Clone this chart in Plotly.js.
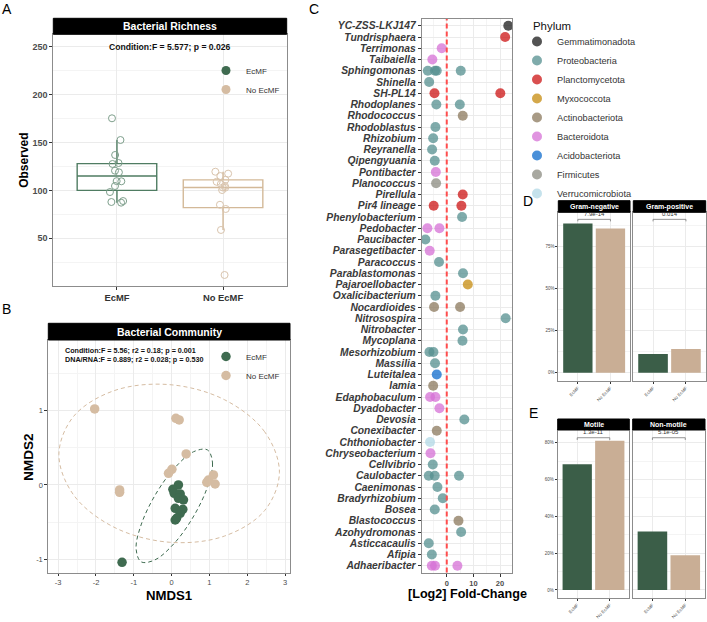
<!DOCTYPE html>
<html><head><meta charset="utf-8">
<script src="https://cdn.plot.ly/plotly-3.0.1.min.js"></script>
<style>html,body{margin:0;padding:0;background:#fff}#chart{width:707px;height:622px}</style>
</head><body><div id="chart"></div>
<script>
// ---------- Panel A: Bacterial richness ----------
const groups = ['EcMF', 'No EcMF'];
const richEcMF = [175.3, 152.6, 137, 128.6, 127.6, 120.6, 118.9, 109.5, 109.7, 104.6, 98.3, 88.9, 87.2, 87.9];
const richNoEcMF = [119.5, 117.5, 115, 111, 109, 106.7, 104.6, 102.8, 100.4, 85, 80.6, 58.7, 11.7, 103];
const richQ1 = [100, 82];
const richMedian = [115, 103];
const richQ3 = [128, 111];
const richLower = [87.2, 58.7];
const richUpper = [152.6, 119.5];
const richTicks = [50, 100, 150, 200, 250];
const richMinor = [25, 75, 125, 175, 225];

// ---------- Panel B: NMDS ----------
const nmdsEcMFx = [0.18, 0.034, 0.069, 0.227, 0.18, 0.314, 0.095, 0.297, 0.227, 0.095, 0.13, -1.31];
const nmdsEcMFy = [0.0, -0.058, -0.112, -0.121, -0.18, -0.2, -0.314, -0.327, -0.381, -0.471, -0.449, -1.04];
const nmdsNoEcMFx = [-2.034, 0.113, 0.2, 0.385, 0.008, -0.082, -1.375, -1.375, 0.974, 1.106, 1.15, 0.93];
const nmdsNoEcMFy = [1.023, 0.897, 0.875, 0.417, 0.211, 0.157, -0.067, -0.099, 0.067, 0.135, 0.013, 0.036];
const ellEcMFx = [0.947, 1.082, 0.942, 0.570, 0.066, -0.438, -0.805, -0.939, -0.799, -0.427, 0.077, 0.580, 0.947];
const ellEcMFy = [0.472, 0.296, -0.034, -0.431, -0.787, -1.007, -1.034, -0.856, -0.526, -0.129, 0.227, 0.447, 0.472];
const ellNoEcMFx = [2.85, 2.459, 1.393, -0.065, -1.523, -2.589, -2.98, -2.589, -1.523, -0.065, 1.393, 2.459, 2.85];
const ellNoEcMFy = [0.17, 0.716, 1.148, 1.35, 1.268, 0.924, 0.41, -0.136, -0.568, -0.77, -0.688, -0.344, 0.17];
const nmdsTicksX = [-3, -2, -1, 0, 1, 2, 3];
const nmdsTickTextX = ['-3', '-2', '-1', '0', '1', '2', '3'];
const nmdsMinorX = [-2.5, -1.5, -0.5, 0.5, 1.5, 2.5];
const nmdsTicksY = [-1, 0, 1];
const nmdsTickTextY = ['-1', '0', '1'];
const nmdsMinorY = [-0.5, 0.5, 1.5];

// ---------- Panel C: differential abundance ----------
const genera = ['YC-ZSS-LKJ147','Tundrisphaera','Terrimonas','Taibaiella','Sphingomonas','Shinella','SH-PL14','Rhodoplanes','Rhodococcus','Rhodoblastus','Rhizobium','Reyranella','Qipengyuania','Pontibacter','Planococcus','Pirellula','Pir4 lineage','Phenylobacterium','Pedobacter','Paucibacter','Parasegetibacter','Paracoccus','Parablastomonas','Pajaroellobacter','Oxalicibacterium','Nocardioides','Nitrosospira','Nitrobacter','Mycoplana','Mesorhizobium','Massilia','Luteitalea','Iamia','Edaphobaculum','Dyadobacter','Devosia','Conexibacter','Chthoniobacter','Chryseobacterium','Cellvibrio','Caulobacter','Caenimonas','Bradyrhizobium','Bosea','Blastococcus','Azohydromonas','Asticcacaulis','Afipia','Adhaeribacter'];
const daGenus = ['YC-ZSS-LKJ147','Tundrisphaera','Terrimonas','Taibaiella','Sphingomonas','Sphingomonas','Sphingomonas','Sphingomonas','Shinella','SH-PL14','SH-PL14','Rhodoplanes','Rhodoplanes','Rhodococcus','Rhodoblastus','Rhizobium','Reyranella','Qipengyuania','Pontibacter','Planococcus','Pirellula','Pir4 lineage','Pir4 lineage','Phenylobacterium','Pedobacter','Pedobacter','Paucibacter','Parasegetibacter','Paracoccus','Parablastomonas','Pajaroellobacter','Oxalicibacterium','Nocardioides','Nocardioides','Nitrosospira','Nitrobacter','Mycoplana','Mesorhizobium','Mesorhizobium','Massilia','Luteitalea','Iamia','Edaphobaculum','Edaphobaculum','Dyadobacter','Devosia','Conexibacter','Chthoniobacter','Chryseobacterium','Cellvibrio','Caulobacter','Caulobacter','Caulobacter','Caenimonas','Bradyrhizobium','Bosea','Blastococcus','Azohydromonas','Asticcacaulis','Afipia','Adhaeribacter','Adhaeribacter','Adhaeribacter'];
const daLfc = [23.1, 21.9, -1.9, -5.4, -7.1, -4.4, -3.75, 5.25, -6.6, -4.6, 20.1, -3.9, 4.9, 6.0, -4.25, -5.1, -5.5, -4.5, -4.1, -4.0, 6.0, -4.9, 5.5, 5.75, -7.25, -2.75, -8.0, -6.4, -2.9, 6.1, 7.9, -4.25, -4.75, 5.0, 22.1, 6.1, 5.9, -6.5, -5.0, -4.4, -3.75, -5.1, -6.25, -4.25, -2.75, 6.6, -3.75, -6.25, -6.1, -5.25, -6.75, -4.5, 4.6, -3.5, -1.5, -4.5, 4.4, 5.4, -6.75, -5.6, -5.6, -4.4, 4.0];
const daPhylumCode = ['G','L','B','B','P','P','P','P','P','L','L','P','P','A','P','P','P','P','B','F','L','L','L','P','B','B','P','B','P','P','M','P','A','A','P','P','P','P','P','P','C','A','B','B','B','P','A','V','B','P','P','P','P','P','P','P','A','P','P','P','B','B','B'];
const phylumCodes = ['G','P','L','M','A','B','C','F','V'];
const phylumNames = ['Gemmatimonadota','Proteobacteria','Planctomycetota','Myxococcota','Actinobacteriota','Bacteroidota','Acidobacteriota','Firmicutes','Verrucomicrobiota'];
const phylumColors = ['#1a1a1a','#548f8f','#cc1414','#c68b0e','#8b785c','#d670d6','#0e6bcc','#8b8b80','#b2d8e6'];
const lfcTicks = [0, 10, 20];
const lfcMinor = [-5, 5, 15];

// ---------- Panel D: Gram ----------
const gramClasses = ['Gram-negative', 'Gram-positive'];
const gramEcMF = [88.9, 11.1];
const gramNoEcMF = [85.9, 14.1];
const gramP = ['7.9e-14', '0.014'];
const gramTicks = [0, 25, 50, 75];
const gramTickText = ['0%', '25%', '50%', '75%'];
const gramMinor = [12.5, 37.5, 62.5, 87.5];
// ---------- Panel E: Motility ----------
const motClasses = ['Motile', 'Non-motile'];
const motEcMF = [68.3, 31.7];
const motNoEcMF = [81.1, 18.9];
const motP = ['1.3e-11', '5.1e-05'];
const motTicks = [0, 20, 40, 60, 80];
const motTickText = ['0%', '20%', '40%', '60%', '80%'];
const motMinor = [10, 30, 50, 70];

// ---------- styling ----------
const FF = 'Liberation Sans, Arial, sans-serif';
const W = 707, H = 622;
const px = v => v / W, py = v => 1 - v / H;
const colEc = '#3f6b50', colNo = '#d5bca2';
const gridC = '#ebebeb', minorC = '#f4f4f4', frameC = '#8c8c8c';

function ax(o) {
  return Object.assign({
    showline: true, mirror: true, linecolor: frameC, linewidth: 1,
    ticks: 'outside', ticklen: 3, tickwidth: 1, tickcolor: '#333',
    showgrid: true, gridcolor: gridC, gridwidth: 1, zeroline: false, fixedrange: true,
    tickfont: {family: FF, size: 8, color: '#4d4d4d'}
  }, o);
}
function minor(vals, w) { return {tickvals: vals, showgrid: true, gridcolor: minorC, gridwidth: w || 1, ticks: ''}; }

const traces = [];
// A
[[richEcMF, 0, '#4f7c62', '#7fa08d'], [richNoEcMF, 1, '#d3b998', '#d9c4ad']].forEach(([vals, i, lc, pc]) => {
  traces.push({type: 'box', x: [groups[i]], q1: [richQ1[i]], median: [richMedian[i]], q3: [richQ3[i]],
    lowerfence: [richLower[i]], upperfence: [richUpper[i]], xaxis: 'x', yaxis: 'y', width: 0.75, whiskerwidth: 0,
    boxpoints: false, fillcolor: 'rgba(0,0,0,0)', line: {color: lc, width: 1.4}, showlegend: false, hoverinfo: 'skip'});
  traces.push({type: 'box', x: vals.map(() => groups[i]), y: vals, xaxis: 'x', yaxis: 'y', width: 0.75,
    boxpoints: 'all', jitter: 0.22, pointpos: 0, fillcolor: 'rgba(0,0,0,0)', line: {color: 'rgba(0,0,0,0)', width: 0},
    marker: {symbol: 'circle-open', size: 7, color: pc, line: {width: 1}}, showlegend: false, hoverinfo: 'skip'});
});
traces.push({type: 'scatter', mode: 'markers', x: [null], y: [null], xaxis: 'x', yaxis: 'y', name: 'EcMF', legend: 'legend2', marker: {size: 9, color: colEc}});
traces.push({type: 'scatter', mode: 'markers', x: [null], y: [null], xaxis: 'x', yaxis: 'y', name: 'No EcMF', legend: 'legend2', marker: {size: 9, color: colNo}});

// B
traces.push({type: 'scatter', mode: 'lines', x: ellNoEcMFx, y: ellNoEcMFy, xaxis: 'x2', yaxis: 'y2', line: {color: '#d5bca2', width: 1, dash: '4px,3px', shape: 'spline', smoothing: 1}, showlegend: false, hoverinfo: 'skip'});
traces.push({type: 'scatter', mode: 'lines', x: ellEcMFx, y: ellEcMFy, xaxis: 'x2', yaxis: 'y2', line: {color: '#3f6b50', width: 1, dash: '4px,3px', shape: 'spline', smoothing: 1}, showlegend: false, hoverinfo: 'skip'});
traces.push({type: 'scatter', mode: 'markers', x: nmdsEcMFx, y: nmdsEcMFy, xaxis: 'x2', yaxis: 'y2', name: 'EcMF', legend: 'legend3', marker: {size: 9.5, color: colEc}});
traces.push({type: 'scatter', mode: 'markers', x: nmdsNoEcMFx, y: nmdsNoEcMFy, xaxis: 'x2', yaxis: 'y2', name: 'No EcMF', legend: 'legend3', marker: {size: 9.5, color: colNo}});

// C
phylumCodes.forEach((code, k) => {
  const xs = [], ys = [];
  daPhylumCode.forEach((c, i) => { if (c === code) { xs.push(daLfc[i]); ys.push(daGenus[i]); } });
  traces.push({type: 'scatter', mode: 'markers', x: xs, y: ys, xaxis: 'x3', yaxis: 'y3', name: phylumNames[k], legend: 'legend',
    marker: {size: 10, color: phylumColors[k], opacity: 0.75}, hoverinfo: 'skip'});
});

// D & E bars
const barCols = ['#3b5e48', '#c9ae95'];
[[gramEcMF, gramNoEcMF, ['x4', 'x5'], ['y4', 'y5']], [motEcMF, motNoEcMF, ['x6', 'x7'], ['y6', 'y7']]].forEach(([a, b, xs, ys]) => {
  [0, 1].forEach(i => {
    traces.push({type: 'bar', x: groups, y: [a[i], b[i]], xaxis: xs[i], yaxis: ys[i], width: 0.9,
      marker: {color: barCols, line: {width: 0}}, showlegend: false, hoverinfo: 'skip'});
  });
});

// ---------- layout ----------
const layout = {
  width: W, height: H, margin: {l: 0, r: 0, t: 0, b: 0}, paper_bgcolor: '#fff', plot_bgcolor: '#fff',
  font: {family: FF, color: '#333'}, showlegend: true, boxmode: 'overlay', barmode: 'overlay',
  xaxis: ax({domain: [px(53.3), px(286.7)], anchor: 'y', type: 'category', categoryarray: groups, range: [-0.6, 1.6],
    tickfont: {family: FF, size: 9.4, color: '#333', weight: 'bold'}}),
  yaxis: ax({domain: [py(285.7), py(34.3)], anchor: 'x', range: [0.5, 263], tickvals: richTicks, minor: minor(richMinor),
    tickfont: {family: FF, size: 9, color: '#4d4d4d', weight: 'bold'}}),
  xaxis2: ax({domain: [px(48.3), px(290)], anchor: 'y2', range: [-3.26, 3.13], tickvals: nmdsTicksX, ticktext: nmdsTickTextX, minor: minor(nmdsMinorX),
    ticklen: 2.5, tickfont: {family: FF, size: 7.5, color: '#4d4d4d'}}),
  yaxis2: ax({domain: [py(572.7), py(340)], anchor: 'x2', range: [-1.18, 1.95], tickvals: nmdsTicksY, ticktext: nmdsTickTextY, minor: minor(nmdsMinorY),
    tickfont: {family: FF, size: 7.5, color: '#4d4d4d'}}),
  xaxis3: ax({domain: [px(421.7), px(512.3)], anchor: 'y3', range: [-9.4, 24.6], tickvals: lfcTicks, minor: minor(lfcMinor),
    tickfont: {family: FF, size: 7.5, color: '#4d4d4d', weight: 'bold'}}),
  yaxis3: ax({domain: [py(572.5), py(19)], anchor: 'x3', type: 'category', categoryarray: genera, range: [genera.length - 0.4, -0.6],
    tickmode: 'array', tickvals: genera, ticktext: genera,
    tickfont: {family: FF, size: 10.3, color: '#3a3a3a', weight: 'bold', style: 'italic'}}),
  legend: {x: px(517), y: py(27), xanchor: 'left', yanchor: 'top', bgcolor: 'rgba(0,0,0,0)', font: {family: FF, size: 9.2, color: '#333'}},
  legend2: {x: px(206), y: py(56), xanchor: 'left', yanchor: 'top', bgcolor: 'rgba(0,0,0,0)', font: {family: FF, size: 8, color: '#333'}},
  legend3: {x: px(206), y: py(342), xanchor: 'left', yanchor: 'top', bgcolor: 'rgba(0,0,0,0)', font: {family: FF, size: 8, color: '#333'}},
  shapes: [], annotations: []
};

const smallTick = {family: FF, size: 4.5, color: '#4d4d4d'};
const facetDefs = [
  ['xaxis4', 'yaxis4', [558.3, 630], [380.7, 212.3], [-4.8, 95.5], gramTicks, gramTickText, gramMinor, true],
  ['xaxis5', 'yaxis5', [633.3, 705.7], [380.7, 212.3], [-4.8, 95.5], gramTicks, gramTickText, gramMinor, false],
  ['xaxis6', 'yaxis6', [557.7, 629.3], [597.7, 430], [-4.2, 86.9], motTicks, motTickText, motMinor, true],
  ['xaxis7', 'yaxis7', [632.7, 705], [597.7, 430], [-4.2, 86.9], motTicks, motTickText, motMinor, false]
];
facetDefs.forEach(([xa, ya, xd, yd, yr, tv, tt, mn, showY]) => {
  const xs = 'x' + xa.slice(5), ys = 'y' + ya.slice(5);
  layout[xa] = ax({domain: [px(xd[0]), px(xd[1])], anchor: ys, type: 'category', categoryarray: groups, range: [-0.6, 1.6],
    tickangle: -45, ticklen: 2, tickfont: smallTick});
  layout[ya] = ax({domain: [py(yd[0]), py(yd[1])], anchor: xs, range: yr, tickvals: tv, ticktext: tt, minor: minor(mn),
    ticklen: showY ? 2 : 0, ticks: showY ? 'outside' : '', showticklabels: showY, tickfont: smallTick});
});

// strips
function strip(xr, yr, hpx, plotH, text, size) {
  const top = 1 + hpx / plotH;
  layout.shapes.push({type: 'rect', xref: xr + ' domain', yref: yr + ' domain', x0: 0, x1: 1, y0: 1, y1: top,
    fillcolor: '#000', line: {color: '#000', width: 1}, layer: 'above'});
  layout.annotations.push({xref: xr + ' domain', yref: yr + ' domain', x: 0.5, y: (1 + top) / 2, text: text, showarrow: false,
    xanchor: 'center', yanchor: 'middle', font: {family: FF, size: size, color: '#fff', weight: 'bold'}});
}
strip('x', 'y', 16, 251.4, 'Bacterial Richness', 10.5);
strip('x2', 'y2', 16.7, 232.7, 'Bacterial Community', 10.5);
strip('x4', 'y4', 11.6, 168.4, gramClasses[0], 7);
strip('x5', 'y5', 11.6, 168.4, gramClasses[1], 7);
strip('x6', 'y6', 11, 167.7, motClasses[0], 7);
strip('x7', 'y7', 11, 167.7, motClasses[1], 7);

// zero line in C
layout.shapes.push({type: 'line', xref: 'x3', yref: 'y3 domain', x0: 0, x1: 0, y0: 0, y1: 1, layer: 'above',
  line: {color: '#ff4d4d', width: 2, dash: '5px,3px'}});

// significance brackets
function bracket(xr, yr, yv, txt) {
  const d = 1.2;
  layout.shapes.push({type: 'line', xref: xr, yref: yr, x0: 0, x1: 1, y0: yv, y1: yv, line: {color: '#777', width: 0.8}});
  layout.shapes.push({type: 'line', xref: xr, yref: yr, x0: 0, x1: 0, y0: yv, y1: yv - d, line: {color: '#777', width: 0.8}});
  layout.shapes.push({type: 'line', xref: xr, yref: yr, x0: 1, x1: 1, y0: yv, y1: yv - d, line: {color: '#777', width: 0.8}});
  layout.annotations.push({xref: xr, yref: yr, x: 0.5, y: yv, yshift: 0.5, text: txt, showarrow: false, xanchor: 'center', yanchor: 'bottom',
    font: {family: FF, size: 6, color: '#333'}});
}
bracket('x4', 'y4', 91.3, gramP[0]);
bracket('x5', 'y5', 91.3, gramP[1]);
bracket('x6', 'y6', 82.7, motP[0]);
bracket('x7', 'y7', 82.7, motP[1]);

// text annotations
function note(x, y, text, font, xanchor, align, angle) {
  layout.annotations.push({xref: 'paper', yref: 'paper', x: px(x), y: py(y), text: text, showarrow: false, textangle: angle || 0,
    xanchor: xanchor || 'center', yanchor: 'middle', align: align || 'center', borderpad: 0, font: Object.assign({family: FF}, font)});
}
note(6.7, 8.5, 'A', {size: 14, color: '#000'});
note(6.7, 308.5, 'B', {size: 14, color: '#000'});
note(314, 8.5, 'C', {size: 14, color: '#000'});
note(527.7, 200.7, 'D', {size: 14, color: '#000'});
note(533.3, 413.3, 'E', {size: 14, color: '#000'});
note(170, 46.7, 'Condition:F = 5.577; p = 0.026', {size: 8.6, color: '#111', weight: 'bold'});
note(64.3, 355, 'Condition:F = 5.56; r2 = 0.18; p = 0.001<br>DNA/RNA:F = 0.889; r2 = 0.028; p = 0.530', {size: 7.2, color: '#111', weight: 'bold'}, 'left', 'left');
note(531.7, 25.7, 'Phylum', {size: 11.4, color: '#111'}, 'left');
// axis titles
note(23.3, 160.5, 'Observed', {size: 12, color: '#000', weight: 'bold'}, 'center', 'center', -90);
note(168.5, 595, 'NMDS1', {size: 13.2, color: '#000', weight: 'bold'});
note(28.3, 456.7, 'NMDS2', {size: 13.6, color: '#000', weight: 'bold'}, 'center', 'center', -90);
note(467, 594, '[Log2] Fold-Change', {size: 12.6, color: '#000', weight: 'bold'});

Plotly.newPlot('chart', traces, layout, {staticPlot: true, displayModeBar: false});
</script>
</body></html>
